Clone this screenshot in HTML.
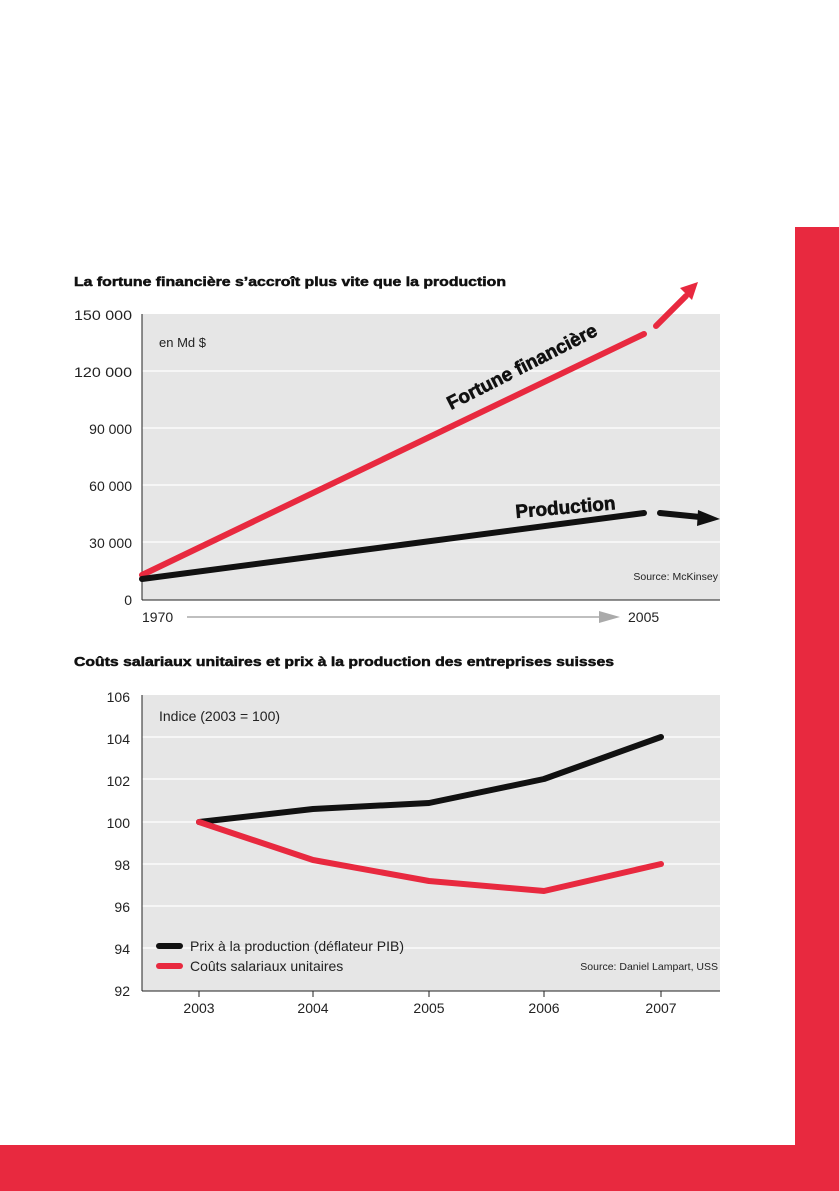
<!DOCTYPE html>
<html><head><meta charset="utf-8"><style>
body{margin:0;background:#fff;}
svg{display:block;}
text{font-family:"Liberation Sans",sans-serif;}
</style></head><body>
<svg width="839" height="1191" viewBox="0 0 839 1191">
<rect x="795" y="227" width="44" height="918" fill="#e8293f"/>
<rect x="0" y="1145" width="839" height="46" fill="#e8293f"/>

<!-- Chart 1 -->
<text x="74" y="286" font-size="13" font-weight="bold" fill="#111" stroke="#111" stroke-width="0.5" textLength="432" lengthAdjust="spacingAndGlyphs">La fortune financière s’accroît plus vite que la production</text>
<rect x="142" y="314" width="578" height="286" fill="#e6e6e6"/>
<g stroke="#fff" stroke-width="1.2">
<line x1="142" y1="371" x2="720" y2="371"/><line x1="142" y1="428" x2="720" y2="428"/>
<line x1="142" y1="485" x2="720" y2="485"/><line x1="142" y1="542" x2="720" y2="542"/>
</g>
<line x1="142" y1="314" x2="142" y2="600" stroke="#222" stroke-width="1"/>
<line x1="142" y1="600" x2="720" y2="600" stroke="#222" stroke-width="1"/>
<g font-size="14" fill="#222" text-anchor="end">
<text x="132" y="320" textLength="58" lengthAdjust="spacingAndGlyphs">150 000</text><text x="132" y="377" textLength="58" lengthAdjust="spacingAndGlyphs">120 000</text><text x="132" y="434">90 000</text>
<text x="132" y="491">60 000</text><text x="132" y="548">30 000</text><text x="132" y="605">0</text>
</g>
<text x="159" y="347" font-size="13" fill="#222">en Md $</text>
<line x1="142" y1="575" x2="644" y2="334" stroke="#e8293f" stroke-width="6" stroke-linecap="round"/>
<line x1="656" y1="326" x2="686" y2="296" stroke="#e8293f" stroke-width="6" stroke-linecap="round"/>
<polygon points="698,282 680,288 692,300" fill="#e8293f"/>
<line x1="142" y1="579" x2="644" y2="513" stroke="#111" stroke-width="6" stroke-linecap="round"/>
<line x1="660" y1="513" x2="700" y2="517" stroke="#111" stroke-width="6" stroke-linecap="round"/>
<polygon points="720,519 698,510 697,526" fill="#111"/>
<text transform="translate(451,410) rotate(-27)" font-size="19" font-weight="bold" fill="#111" stroke="#111" stroke-width="0.6">Fortune financière</text>
<text transform="translate(516,518) rotate(-5)" font-size="19" font-weight="bold" fill="#111" stroke="#111" stroke-width="0.6">Production</text>
<text x="718" y="580" font-size="10.5" fill="#222" text-anchor="end">Source: McKinsey</text>
<text x="142" y="622" font-size="14" fill="#222">1970</text>
<text x="628" y="622" font-size="14" fill="#222">2005</text>
<line x1="187" y1="617" x2="602" y2="617" stroke="#aaa" stroke-width="1.5"/>
<polygon points="620,617 599,611 599,623" fill="#aaa"/>

<!-- Chart 2 -->
<text x="74" y="666" font-size="13" font-weight="bold" fill="#111" stroke="#111" stroke-width="0.5" textLength="540" lengthAdjust="spacingAndGlyphs">Coûts salariaux unitaires et prix à la production des entreprises suisses</text>
<rect x="142" y="695" width="578" height="296" fill="#e6e6e6"/>
<g stroke="#fff" stroke-width="1.2">
<line x1="142" y1="737" x2="720" y2="737"/><line x1="142" y1="779" x2="720" y2="779"/>
<line x1="142" y1="822" x2="720" y2="822"/><line x1="142" y1="864" x2="720" y2="864"/>
<line x1="142" y1="906" x2="720" y2="906"/><line x1="142" y1="948" x2="720" y2="948"/>
</g>
<line x1="142" y1="695" x2="142" y2="991" stroke="#222" stroke-width="1"/>
<line x1="142" y1="991" x2="720" y2="991" stroke="#222" stroke-width="1"/>
<g stroke="#222" stroke-width="1">
<line x1="199" y1="991" x2="199" y2="997"/><line x1="313" y1="991" x2="313" y2="997"/>
<line x1="429" y1="991" x2="429" y2="997"/><line x1="544" y1="991" x2="544" y2="997"/>
<line x1="661" y1="991" x2="661" y2="997"/>
</g>
<g font-size="14" fill="#222" text-anchor="end">
<text x="130" y="702">106</text><text x="130" y="744">104</text><text x="130" y="786">102</text>
<text x="130" y="828">100</text><text x="130" y="870">98</text><text x="130" y="912">96</text>
<text x="130" y="954">94</text><text x="130" y="996">92</text>
</g>
<g font-size="14" fill="#222" text-anchor="middle">
<text x="199" y="1013">2003</text><text x="313" y="1013">2004</text><text x="429" y="1013">2005</text>
<text x="544" y="1013">2006</text><text x="661" y="1013">2007</text>
</g>
<text x="159" y="721" font-size="14" fill="#222">Indice (2003 = 100)</text>
<polyline points="199,822 313,809 429,803 544,779 661,737" fill="none" stroke="#111" stroke-width="6" stroke-linejoin="round" stroke-linecap="round"/>
<polyline points="199,822 313,860 429,881 544,891 661,864" fill="none" stroke="#e8293f" stroke-width="6" stroke-linejoin="round" stroke-linecap="round"/>
<line x1="159" y1="946" x2="180" y2="946" stroke="#111" stroke-width="6" stroke-linecap="round"/>
<line x1="159" y1="966" x2="180" y2="966" stroke="#e8293f" stroke-width="6" stroke-linecap="round"/>
<text x="190" y="951" font-size="14" fill="#222">Prix à la production (déflateur PIB)</text>
<text x="190" y="971" font-size="14" fill="#222">Coûts salariaux unitaires</text>
<text x="718" y="970" font-size="10.5" fill="#222" text-anchor="end">Source: Daniel Lampart, USS</text>
</svg>
</body></html>
